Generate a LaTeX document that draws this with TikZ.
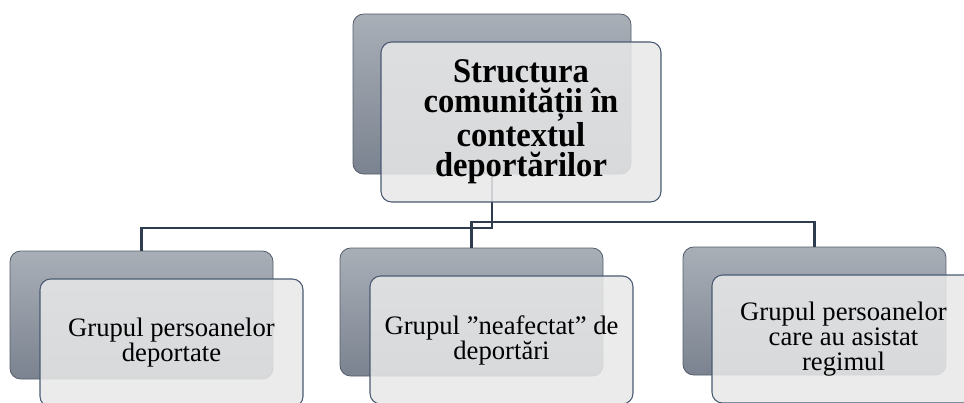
\documentclass[tikz,border=0pt]{standalone}
\usepackage{fontspec}
\setmainfont{Liberation Serif}
\newfontfamily\headfont{Liberation Serif}[FakeStretch=0.94]
\usepackage{tikz}
\definecolor{backtop}{HTML}{A9AFB7}
\definecolor{backbot}{HTML}{7B8390}
\definecolor{backline}{HTML}{555D6B}
\definecolor{frontfill}{HTML}{E8E8E8}
\definecolor{frontline}{HTML}{4A5A72}
\definecolor{connline}{HTML}{2E3C50}

\begin{document}
\begin{tikzpicture}[x=0.75pt,y=-0.75pt]
    \tikzstyle{backbox}=[rectangle,rounded corners=8pt,draw=backline,line width=0.6pt,top color=backtop,bottom color=backbot,minimum width=197.25pt,minimum height=96pt]
    \tikzstyle{frontbox}=[rectangle,rounded corners=8pt,draw=frontline,line width=0.8pt,fill=frontfill,fill opacity=0.86,text opacity=1,align=center,minimum width=197.25pt,minimum height=96pt,font=\fontsize{20}{18.75}\selectfont]
    \tikzstyle{conn}=[draw=connline,line width=1.6pt]

    \useasboundingbox (0,0) rectangle (964,403);
    \clip (0,0) rectangle (964,403);

    % back boxes
    \node(topb) [backbox,minimum width=208.5pt,minimum height=120pt] at (492,94) {};
    \node(leftb) [backbox] at (141.5,315) {};
    \node(midb) [backbox] at (471.5,312) {};
    \node(rightb) [backbox] at (814.5,311) {};

    % connectors
    \draw [conn] (topb.south) -- ++(0,54) -| (leftb.north);
    \draw [conn] (topb.south) -- ++(0,48) -| (midb.north);
    \draw [conn] (topb.south) -- ++(0,48) -| (rightb.north);

    % front boxes
    \node(top) [frontbox,minimum width=210pt,minimum height=120pt,font=\fontsize{26}{22.5}\headfont\bfseries] at (521,122) {Structura\\comunității în\\contextul\\deportărilor};
    \node(left) [frontbox] at (171.5,343) {Grupul persoanelor\\deportate};
    \node(mid) [frontbox] at (501.5,340) {Grupul ”neafectat” de\\deportări};
    \node(right) [frontbox] at (843.5,339) {Grupul persoanelor\\care au asistat\\regimul};

\end{tikzpicture}
\end{document}
